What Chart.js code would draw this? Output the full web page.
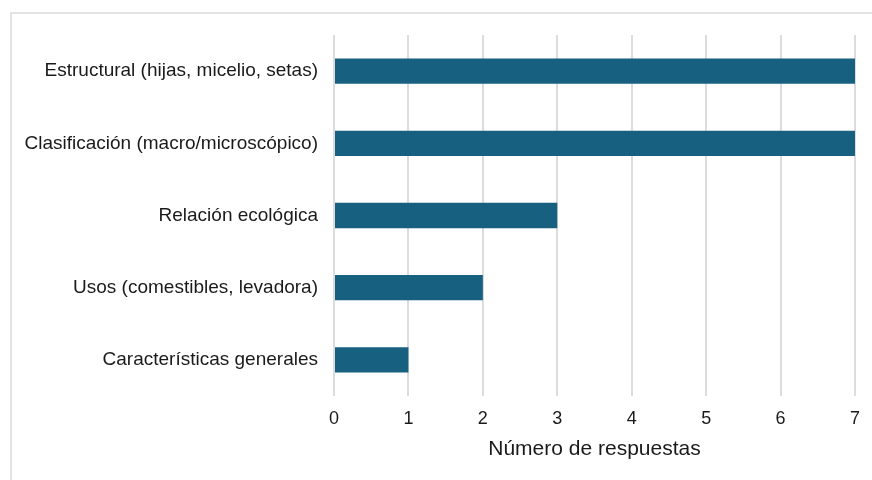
<!DOCTYPE html>
<html>
<head>
<meta charset="utf-8">
<script src="https://cdn.jsdelivr.net/npm/chart.js@4/dist/chart.umd.min.js"></script>
<style>
  html, body { margin: 0; padding: 0; background: #fff; }
  #frame { position: absolute; left: 10px; top: 12px; width: 900px; height: 500px;
    border: 2px solid #e3e3e3; box-sizing: border-box; }
  #wrap { position: absolute; left: 0; top: 0; width: 872px; height: 480px; }
</style>
</head>
<body>
<div id="frame"></div>
<div id="wrap"><canvas id="chart"></canvas></div>
<script>
var categories = [
  'Estructural (hijas, micelio, setas)',
  'Clasificación (macro/microscópico)',
  'Relación ecológica',
  'Usos (comestibles, levadora)',
  'Características generales'
];
var respuestas = [7, 7, 3, 2, 1];
var axisTitle = 'Número de respuestas';

(function(){
  Chart.defaults.font.family = '"Liberation Sans", Arial, sans-serif';
  Chart.defaults.color = '#1a1a1a';

  var ctx = document.getElementById('chart').getContext('2d');
  new Chart(ctx, {
    type: 'bar',
    data: {
      labels: categories,
      datasets: [{
        data: respuestas,
        backgroundColor: '#17607f',
        categoryPercentage: 1,
        barPercentage: 0.35
      }]
    },
    options: {
      indexAxis: 'y',
      responsive: true,
      maintainAspectRatio: false,
      animation: false,
      layout: { padding: { top: 35, right: 17, left: 0, bottom: 18 } },
      plugins: { legend: { display: false }, tooltip: { enabled: false } },
      scales: {
        x: {
          min: 0, max: 7,
          ticks: { stepSize: 1, font: { size: 18 }, padding: 12 },
          grid: { color: '#dcdcdc', lineWidth: 2, drawTicks: false },
          border: { display: false },
          title: { display: true, text: axisTitle, font: { size: 21 }, padding: { top: 6, bottom: 0 } },
          afterFit: function (scale) { scale.height = 66; }
        },
        y: {
          ticks: { font: { size: 19 }, padding: 16 },
          grid: { display: false, drawTicks: false },
          border: { display: false },
          afterFit: function (scale) { scale.width = 334; }
        }
      }
    }
  });
})();
</script>
</body>
</html>
